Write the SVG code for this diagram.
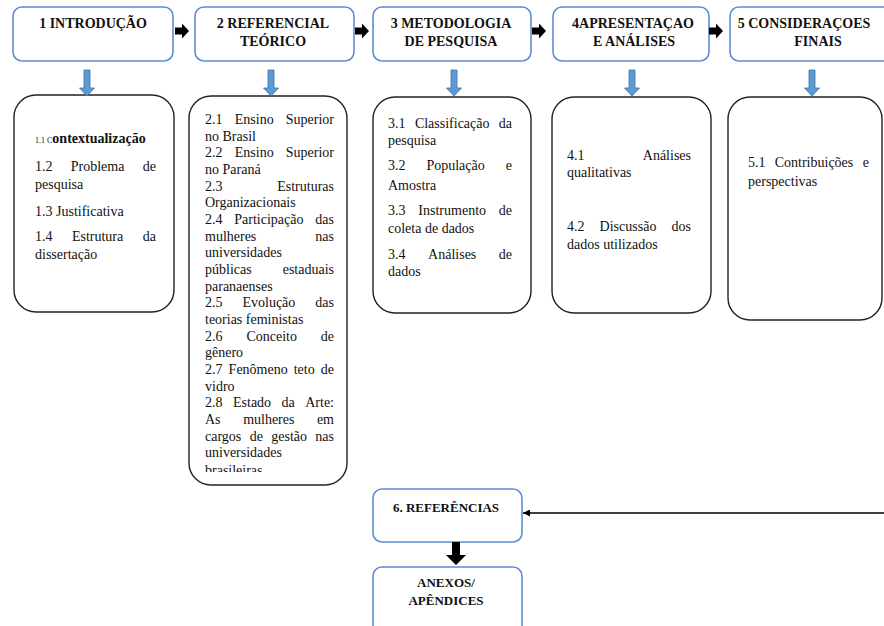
<svg xmlns="http://www.w3.org/2000/svg" width="884" height="626" viewBox="0 0 884 626">
  <style>
    .title { fill: #fff; stroke: #5b8dd6; stroke-width: 1.6; }
    .panel { fill: #fff; stroke: #222; stroke-width: 1.4; }
    .ttl { font-family: "Liberation Serif", "Times New Roman", serif; font-weight: bold; font-size: 14px; fill: #111; text-anchor: middle; }
    .ttl13 { font-size: 13px; }
    .body { font-family: "Liberation Serif", "Times New Roman", serif; font-size: 14px; fill: #111; }
    .mid { text-anchor: middle; }
    .end { text-anchor: end; }
    .blue { fill: #5b9bd5; stroke: #41719c; stroke-width: 0.8; }
    .blk { fill: #000; }
    .line { stroke: #000; stroke-width: 1.3; fill: none; }
  </style>
  <defs>
    <!-- small black block arrow pointing right, origin at left of shaft -->
    <path id="rarrow" d="M0,-3.5 H7 V-7.5 L14,0 L7,7.5 V3.5 H0 Z"/>
    <!-- blue block arrow pointing down, origin at top centre -->
    <path id="darrow" d="M-3,0 H3 V18 H7.5 L0,26 L-7.5,18 H-3 Z"/>
    <marker id="tip" viewBox="0 0 8 8" refX="8" refY="4" markerWidth="7" markerHeight="7" orient="auto" markerUnits="userSpaceOnUse">
      <path d="M0,0 L8,4 L0,8 Z" fill="#000"/>
    </marker>
    <clipPath id="clip2">
      <rect x="189" y="96" width="158" height="376"/>
    </clipPath>
  </defs>

  <rect width="884" height="626" fill="#fff"/>

  <!-- chapter headings -->
  <g id="h1">
    <rect class="title" x="13" y="7" width="160" height="54" rx="9"/>
    <text class="ttl" x="93" y="28">1 INTRODUÇÃO</text>
  </g>
  <g id="h2">
    <rect class="title" x="195" y="7" width="159" height="54" rx="9"/>
    <text class="ttl" x="273" y="28">2 REFERENCIAL</text>
    <text class="ttl" x="273" y="45.5">TEÓRICO</text>
  </g>
  <g id="h3">
    <rect class="title" x="373" y="7" width="158" height="54" rx="9"/>
    <text class="ttl" x="451" y="28">3 METODOLOGIA</text>
    <text class="ttl" x="451" y="45.5">DE PESQUISA</text>
  </g>
  <g id="h4">
    <rect class="title" x="553" y="7" width="156" height="54" rx="9"/>
    <text class="ttl" x="633" y="28">4APRESENTAÇAO</text>
    <text class="ttl" x="634" y="45.5">E ANÁLISES</text>
  </g>
  <g id="h5">
    <rect class="title" x="730" y="7" width="176" height="54" rx="9"/>
    <text class="ttl" x="804" y="28">5 CONSIDERAÇOES</text>
    <text class="ttl" x="818" y="45.5">FINAIS</text>
  </g>

  <!-- section panels -->
  <g id="p1">
    <rect class="panel" x="14" y="95" width="160" height="217" rx="22"/>
    <text class="body" x="35" y="143"><tspan font-size="8">1.1 C</tspan><tspan font-weight="bold">ontextualização</tspan></text>
    <text class="body" y="171"><tspan x="35">1.2</tspan><tspan class="mid" x="97.6">Problema</tspan><tspan class="end" x="156">de</tspan></text>
    <text class="body" x="35" y="189">pesquisa</text>
    <text class="body" x="35" y="216">1.3 Justificativa</text>
    <text class="body" y="241"><tspan x="35">1.4</tspan><tspan class="mid" x="97.6">Estrutura</tspan><tspan class="end" x="156">da</tspan></text>
    <text class="body" x="35" y="259">dissertação</text>
  </g>

  <g id="p2">
    <rect class="panel" x="189" y="96" width="158" height="389" rx="22"/>
    <g clip-path="url(#clip2)">
      <text class="body" y="124"><tspan x="205">2.1</tspan><tspan class="mid" x="254.2">Ensino</tspan><tspan class="end" x="334">Superior</tspan></text>
      <text class="body" x="205" y="140.7">no Brasil</text>
      <text class="body" y="157.3"><tspan x="205">2.2</tspan><tspan class="mid" x="254.2">Ensino</tspan><tspan class="end" x="334">Superior</tspan></text>
      <text class="body" x="205" y="174">no Paraná</text>
      <text class="body" y="190.7"><tspan x="205">2.3</tspan><tspan class="end" x="334">Estruturas</tspan></text>
      <text class="body" x="205" y="207.3">Organizacionais</text>
      <text class="body" y="224"><tspan x="205">2.4</tspan><tspan class="mid" x="268.9">Participação</tspan><tspan class="end" x="334">das</tspan></text>
      <text class="body" y="240.7"><tspan x="205">mulheres</tspan><tspan class="end" x="334">nas</tspan></text>
      <text class="body" x="205" y="257.3">universidades</text>
      <text class="body" y="274"><tspan x="205">públicas</tspan><tspan class="end" x="334">estaduais</tspan></text>
      <text class="body" x="205" y="290.7">paranaenses</text>
      <text class="body" y="307.3"><tspan x="205">2.5</tspan><tspan class="mid" x="268.9">Evolução</tspan><tspan class="end" x="334">das</tspan></text>
      <text class="body" x="205" y="324">teorias feministas</text>
      <text class="body" y="340.7"><tspan x="205">2.6</tspan><tspan class="mid" x="271.7">Conceito</tspan><tspan class="end" x="334">de</tspan></text>
      <text class="body" x="205" y="357.3">gênero</text>
      <text class="body" y="374"><tspan x="205">2.7</tspan><tspan x="228.6">Fenômeno</tspan><tspan x="293.7">teto</tspan><tspan class="end" x="334">de</tspan></text>
      <text class="body" x="205" y="390.7">vidro</text>
      <text class="body" y="407.3"><tspan x="205">2.8</tspan><tspan x="233">Estado</tspan><tspan x="281.5">da</tspan><tspan class="end" x="334">Arte:</tspan></text>
      <text class="body" y="424"><tspan x="205">As</tspan><tspan class="mid" x="268.8">mulheres</tspan><tspan class="end" x="334">em</tspan></text>
      <text class="body" y="440.7"><tspan x="205">cargos</tspan><tspan x="249.8">de</tspan><tspan x="271.3">gestão</tspan><tspan class="end" x="334">nas</tspan></text>
      <text class="body" x="205" y="457.3">universidades</text>
      <text class="body" x="205" y="475">brasileiras</text>
    </g>
  </g>

  <g id="p3">
    <rect class="panel" x="373" y="97" width="158" height="216" rx="22"/>
    <text class="body" y="128"><tspan x="388">3.1</tspan><tspan class="mid" x="452.2">Classificação</tspan><tspan class="end" x="512">da</tspan></text>
    <text class="body" x="388" y="145">pesquisa</text>
    <text class="body" y="170"><tspan x="388">3.2</tspan><tspan class="mid" x="455.6">População</tspan><tspan class="end" x="512">e</tspan></text>
    <text class="body" x="388" y="190">Amostra</text>
    <text class="body" y="215"><tspan x="388">3.3</tspan><tspan class="mid" x="452.2">Instrumento</tspan><tspan class="end" x="512">de</tspan></text>
    <text class="body" x="388" y="233">coleta de dados</text>
    <text class="body" y="259"><tspan x="388">3.4</tspan><tspan class="mid" x="452.2">Análises</tspan><tspan class="end" x="512">de</tspan></text>
    <text class="body" x="388" y="276">dados</text>
  </g>

  <g id="p4">
    <rect class="panel" x="552" y="97" width="159" height="216" rx="22"/>
    <text class="body" y="160"><tspan x="567">4.1</tspan><tspan class="end" x="691">Análises</tspan></text>
    <text class="body" x="567" y="177">qualitativas</text>
    <text class="body" y="231"><tspan x="567">4.2</tspan><tspan class="mid" x="628">Discussão</tspan><tspan class="end" x="691">dos</tspan></text>
    <text class="body" x="567" y="249">dados utilizados</text>
  </g>

  <g id="p5">
    <rect class="panel" x="728" y="97" width="154" height="223" rx="22"/>
    <text class="body" y="167"><tspan x="748">5.1</tspan><tspan class="mid" x="814">Contribuições</tspan><tspan class="end" x="869">e</tspan></text>
    <text class="body" x="748" y="186">perspectivas</text>
  </g>

  <!-- closing items -->
  <g id="h6">
    <rect class="title" x="373" y="489" width="149" height="53" rx="9"/>
    <text class="ttl ttl13" x="446" y="512">6. REFERÊNCIAS</text>
  </g>
  <g id="h7">
    <rect class="title" x="373" y="567" width="149" height="75" rx="9"/>
    <text class="ttl ttl13" x="446" y="587">ANEXOS/</text>
    <text class="ttl ttl13" x="446" y="605">APÊNDICES</text>
  </g>

  <!-- connectors -->
  <g id="connectors">
    <use href="#rarrow" class="blk" x="175" y="31"/>
    <use href="#rarrow" class="blk" x="355" y="31"/>
    <use href="#rarrow" class="blk" x="532" y="31"/>
    <use href="#rarrow" class="blk" x="709" y="31"/>
    <use href="#darrow" class="blue" x="87" y="70"/>
    <use href="#darrow" class="blue" x="271" y="70"/>
    <use href="#darrow" class="blue" x="454" y="70"/>
    <use href="#darrow" class="blue" x="632" y="70"/>
    <use href="#darrow" class="blue" x="812" y="70"/>
    <path class="blk" d="M452,542 H460 V555 H466 L456,565 L446,555 H452 Z"/>
    <path class="line" d="M884,513 H523" marker-end="url(#tip)"/>
  </g>
</svg>
